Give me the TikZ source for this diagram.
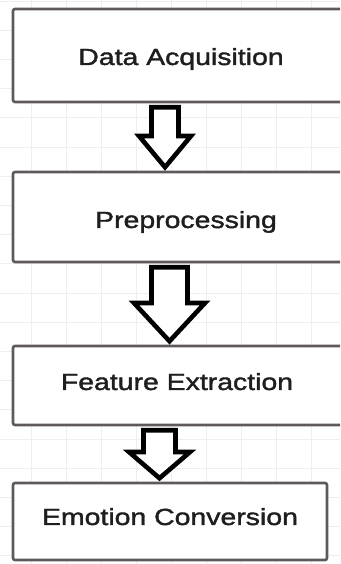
\documentclass[tikz,border=0pt]{standalone}
\usepackage{fontspec}
\newfontfamily\lab[FakeStretch=1.22,FakeBold=1.6]{Liberation Sans}
\usetikzlibrary{calc}
\definecolor{boxline}{HTML}{5E5A5A}
\definecolor{gridc}{HTML}{EEEEEE}
\definecolor{txt}{HTML}{1E1E1E}
\tikzset{
  stagebox/.style={draw=boxline, line width=2.6pt, fill=white, rounded corners=2pt,
    rectangle, inner sep=0pt},
  stagetext/.style={font=\lab\fontsize{23.3}{26}\selectfont, text=txt, anchor=base, inner sep=0pt},
  blk/.style={draw=black, line width=4.6pt, fill=white, line join=miter, miter limit=10}
}
\newcommand\barrow[6]{%
  \draw[blk] let \p1=(#1.south), \p2=(#2.north) in
    (#3pt-#4pt,\y1-4pt) -- (#3pt-#4pt,#6pt) -- (#3pt-#5pt,#6pt) -- (#3pt,\y2+3.5pt)
    -- (#3pt+#5pt,#6pt) -- (#3pt+#4pt,#6pt) -- (#3pt+#4pt,\y1-4pt) -- cycle;}
\begin{document}
\begin{tikzpicture}[x=1pt,y=1pt]
\useasboundingbox (0,0) rectangle (340,564);
\clip (0,0) rectangle (340,564);
\fill[white] (0,0) rectangle (340,564);
% grid
\foreach \k in {0,...,8} \draw[gridc, line width=0.9pt] (31.5+35*\k,0) -- (31.5+35*\k,564);
\foreach \k in {-10,...,10} \draw[gridc, line width=0.9pt] (0,271-29.2*\k) -- (340,271-29.2*\k);
% boxes
\node[stagebox, minimum width=337pt, minimum height=93pt] (b1) at (181.5,508.5) {};
\node[stagebox, minimum width=337pt, minimum height=90pt] (b2) at (181.5,347) {};
\node[stagebox, minimum width=337pt, minimum height=79pt] (b3) at (181.5,178.5) {};
\node[stagebox, minimum width=314pt, minimum height=77pt] (b4) at (170,42.5) {};
% texts
\node[stagetext] (t1) at (181,499) {Data Acquisition};
\node[stagetext] (t2) at (186,336) {Preprocessing};
\node[stagetext] (t3) at (177,174) {Feature Extraction};
\node[stagetext] (t4) at (170,39) {Emotion Conversion};
% block arrows
\barrow{b1}{b2}{165}{13.5}{26}{428}
\barrow{b2}{b3}{169.5}{18}{35.5}{261}
\barrow{b3}{b4}{159.5}{16}{30.5}{112}
\end{tikzpicture}
\end{document}
